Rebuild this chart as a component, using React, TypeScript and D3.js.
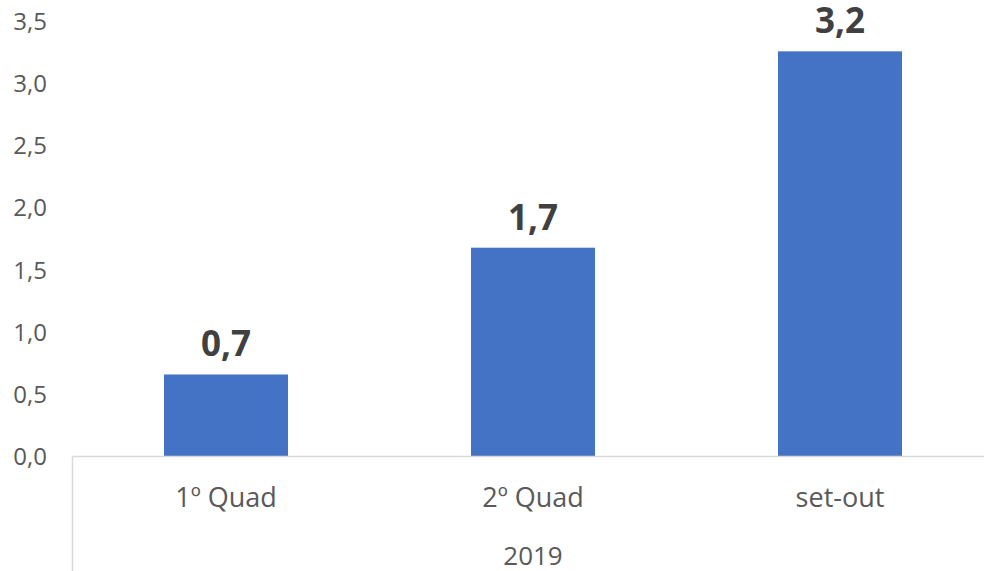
import React from "react";
import * as d3 from "d3";

const categories = ["1º Quad", "2º Quad", "set-out"];
const groupLabel = "2019";
const values = [0.66, 1.68, 3.26];
const valueLabels = ["0,7", "1,7", "3,2"];
const yTicks = [0, 0.5, 1, 1.5, 2, 2.5, 3, 3.5];

const W = 984;
const H = 571;
const FONT = "'Open Sans', 'Noto Sans', sans-serif";

export default function App() {
  const x = d3
    .scaleBand<string>()
    .domain(categories)
    .range([72.5, 993.5])
    .paddingInner(0.596)
    .paddingOuter(0.298);
  const y = d3.scaleLinear().domain([0, 3.5]).range([456.5, 21.5]);
  const fmt = (v: number) => d3.format(".1f")(v).replace(".", ",");

  return (
    <svg
      width={W}
      height={H}
      style={{ position: "absolute", left: 0, top: 0, background: "#fff" }}
      fontFamily={FONT}
    >
      {yTicks.map((t) => (
        <text
          key={t}
          x={47}
          y={y(t) + 8.5}
          textAnchor="end"
          fontSize={24}
          fill="#595959"
        >
          {fmt(t)}
        </text>
      ))}
      {categories.map((c, i) => (
        <g key={c}>
          <rect
            x={x(c)!}
            y={y(values[i])}
            width={x.bandwidth()}
            height={y(0) - y(values[i])}
            fill="#4472C4"
          />
          <text
            x={x(c)! + x.bandwidth() / 2}
            y={y(values[i]) - 18}
            textAnchor="middle"
            fontSize={35}
            fontWeight="bold"
            fill="#404040"
          >
            {valueLabels[i]}
          </text>
          <text
            x={x(c)! + x.bandwidth() / 2}
            y={507}
            textAnchor="middle"
            fontSize={27}
            fill="#595959"
          >
            {c}
          </text>
        </g>
      ))}
      <line x1={72.5} x2={W} y1={y(0)} y2={y(0)} stroke="#d9d9d9" strokeWidth={1.5} />
      <line x1={72.5} x2={72.5} y1={y(0)} y2={H} stroke="#d9d9d9" strokeWidth={1.5} />
      <text x={533} y={565} textAnchor="middle" fontSize={26} fill="#595959">
        {groupLabel}
      </text>
    </svg>
  );
}
